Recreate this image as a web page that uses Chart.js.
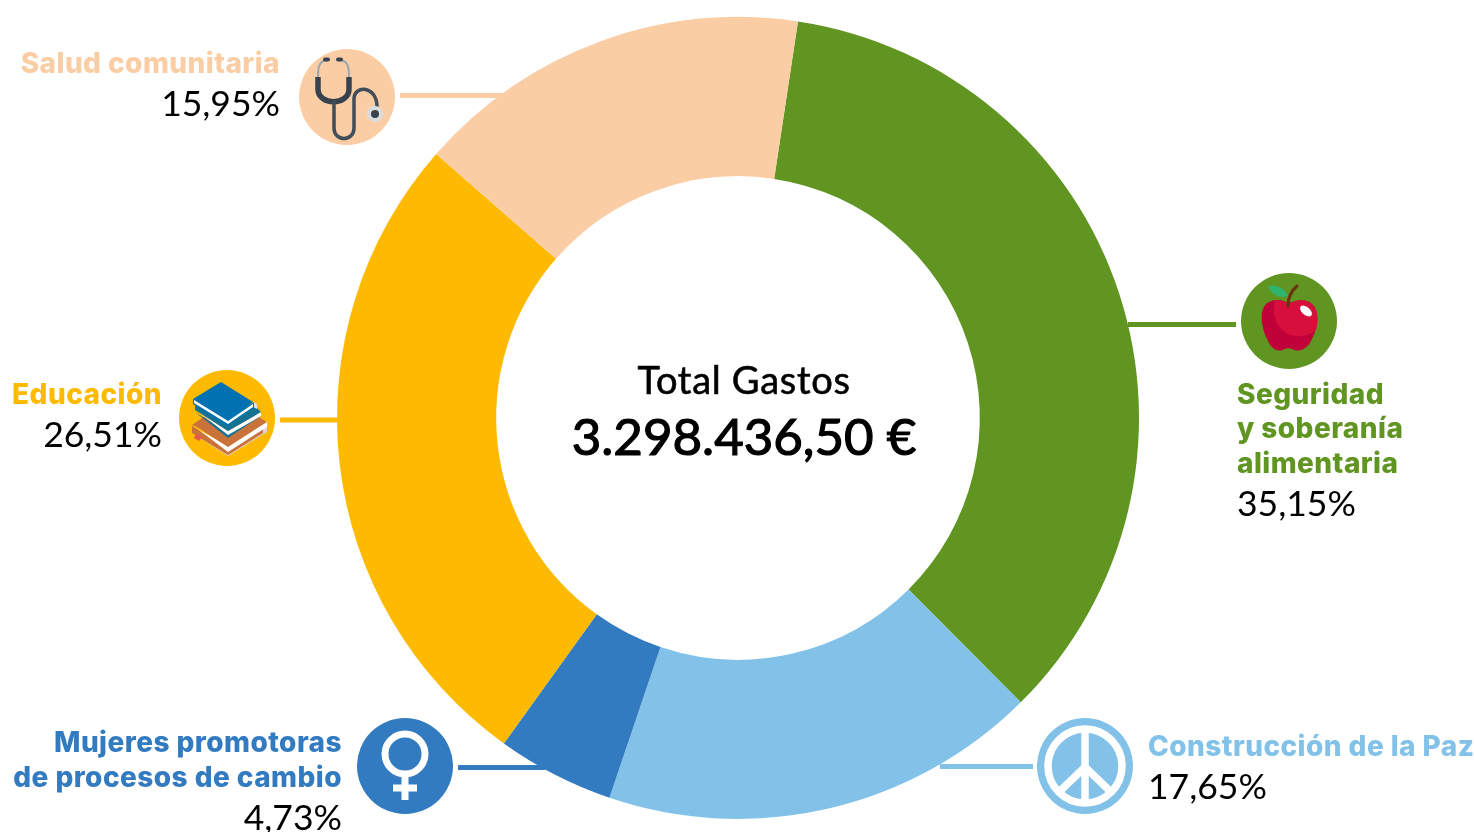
<!DOCTYPE html>
<html lang="es">
<head>
<meta charset="utf-8">
<title>Total Gastos</title>
<script src="https://cdn.jsdelivr.net/npm/chart.js@4/dist/chart.umd.min.js"></script>
<style>
    html, body { margin: 0; padding: 0; background: #fff; overflow: hidden; }
    #wrap { position: relative; width: 1474px; height: 832px; }
    #chart, #overlay, #under { position: absolute; left: 0; top: 0; }
    text { font-family: Lato, sans-serif; }
    .name { font-family: Inter, sans-serif; font-weight: 800; font-size: 28px; letter-spacing: 0.45px; }
    .pct { font-weight: 400; font-size: 35.5px; fill: #000; }
</style>
</head>
<body>
<div id="wrap">
    <svg id="under" width="1474" height="832"></svg>
    <canvas id="chart" width="1474" height="832"></canvas>
    <svg id="overlay" width="1474" height="832"></svg>
</div>
<script>
const categories = ['Seguridad y soberanía alimentaria', 'Construcción de la Paz', 'Mujeres promotoras de procesos de cambio', 'Educación', 'Salud comunitaria'];
const gastos = [35.15, 17.65, 4.73, 26.51, 15.95];
const colores = ['#619522', '#82c2e9', '#337bc0', '#fdba00', '#fbcda4'];
const totalLabel = 'Total Gastos';
const totalValue = '3.298.436,50 €';

// where the name lines go for each slice, the chart scale doesn't know about these
const nameLines = [
    ['Seguridad', 'y soberanía', 'alimentaria'],
    ['Construcción de la Paz'],
    ['Mujeres promotoras', 'de procesos de cambio'],
    ['Educación'],
    ['Salud comunitaria']
];
const callouts = [
    { x: 1237, anchor: 'start', ys: [404, 438, 473], pctY: 516, icon: [1289, 321], line: [1128, 324.5, 1236] },
    { x: 1148, anchor: 'start', ys: [756], pctY: 799, icon: [1085, 766], line: [940, 766.5, 1033] },
    { x: 342, anchor: 'end', ys: [752, 787], pctY: 830, icon: [405, 766], line: [458, 767.5, 545] },
    { x: 162, anchor: 'end', ys: [404], pctY: 447, icon: [227, 418], line: [280, 420, 340] },
    { x: 280, anchor: 'end', ys: [73], pctY: 116, icon: [347, 97], line: [400, 95.5, 506] }
];

function fmtPct(v) {
    return v.toFixed(2).replace('.', ',') + '%';
}

const appleIcon = `
    <path d="M-22 -18 C-10 -24 -5 -19 0 -18 C6 -20 16 -24 24 -16 C31 -8 29 8 22 20 C17 30 8 31 3 28 C0 27 -3 27 -6 29 C-12 31 -18 28 -22 18 C-27 8 -31 -10 -22 -18 Z" fill="#c00038"/>
    <path d="M-14 -21 C-8 -21 -4 -18 0 -18 C6 -20 16 -24 24 -16 C30 -9 29 1 27 9 C18 17 2 18 -8 8 C-15 0 -17 -12 -14 -21 Z" fill="#d60f3c"/>
    <path d="M-1 -15 C-1 -23 2 -30 8 -35" stroke="#6b3410" stroke-width="3" fill="none" stroke-linecap="round"/>
    <path d="M-21 -35 C-13 -37 -4 -33 -1 -25 C-9 -22 -18 -26 -21 -35 Z" fill="#2fb36d"/>
    <ellipse cx="17" cy="-10" rx="7" ry="4" transform="rotate(40 17 -10)" fill="#fff"/>`;

const peaceIcon = `
    <circle r="37" fill="none" stroke="#fff" stroke-width="7.5"/>
    <path d="M0 -37 V37 M0 1 L-27 27 M0 1 L27 27" stroke="#fff" stroke-width="7.5" fill="none"/>`;

const venusIcon = `
    <circle cy="-12" r="20" fill="none" stroke="#fff" stroke-width="7"/>
    <path d="M0 8 V34 M-12 22 H12" stroke="#fff" stroke-width="7" fill="none"/>`;

// drawn from the bottom of the pile up
const booksIcon = `
    <polygon points="-30,18 1,38 40,14 40,8 1,32" fill="#ddd2cc"/>
    <polygon points="-35,8 -35,15 1,37 36,15 36,9 1,31" fill="#c9733a"/>
    <polygon points="-28,12 1,34 40,9 40,3 1,28" fill="#fff"/>
    <polygon points="-35,7 -10,-10 24,-6 40,4 1,29 -30,9" fill="#c9733a"/>
    <polygon points="-31,16 -25,19 -28,23 -33,20" fill="#e8574e"/>
    <polygon points="-32,-6 1,20 34,-2 34,-5 1,15" fill="#157391"/>
    <polygon points="-31,-8 1,17 34,-2 34,-6 1,13" fill="#fff"/>
    <polygon points="-32,-12 -6,-26 29,-11 34,-6 1,13 -32,-8" fill="#157391"/>
    <polygon points="26,-17 30,-14 30,-9 26,-11" fill="#d8e2e2"/>
    <polygon points="-34,-19 -34,-14 0,8 27,-10 27,-16 1,2" fill="#0171b1"/>
    <polygon points="-33,-15 1,6 26,-11 26,-14 1,3 -33,-18" fill="#fff"/>
    <polygon points="-34,-19 -6,-36 26,-16 1,2" fill="#0171b1"/>`;

const stethoIcon = `
    <path d="M-29 -20 C-29 -30 -28 -36 -20 -37 M2 -20 C2 -30 1 -36 -7 -37" stroke="#9aa6ae" stroke-width="2" fill="none"/>
    <path d="M-22 -37.5 H-19 M-9 -37.5 H-6" stroke="#37424e" stroke-width="4" stroke-linecap="round"/>
    <path d="M-29 -20 V-8 C-29 9 2 9 2 -8 V-20" stroke="#37424e" stroke-width="5.5" fill="none"/>
    <path d="M-13 4 V31 C-13 45 7 45 7 31 V2 C7 -12 30 -12 30 10" stroke="#414d59" stroke-width="3.5" fill="none"/>
    <circle cx="28" cy="17" r="8" fill="#dcdcdc"/><circle cx="28" cy="17" r="4" fill="#37424e"/>`;

const icons = [appleIcon, peaceIcon, venusIcon, booksIcon, stethoIcon];

let underHtml = '';
let overHtml = '';
callouts.forEach((c, i) => {
    underHtml += `<rect x="${c.line[0]}" y="${c.line[1] - 2.5}" width="${c.line[2] - c.line[0]}" height="5" fill="${colores[i]}"/>`;
    overHtml += `<g transform="translate(${c.icon[0]} ${c.icon[1]})"><circle r="48" fill="${colores[i]}"/>${icons[i]}</g>`;
    nameLines[i].forEach((t, j) => {
        overHtml += `<text class="name" x="${c.x}" y="${c.ys[j]}" text-anchor="${c.anchor}" fill="${colores[i]}">${t}</text>`;
    });
    overHtml += `<text class="pct" x="${c.x}" y="${c.pctY}" text-anchor="${c.anchor}">${fmtPct(gastos[i])}</text>`;
});
overHtml += `<text x="744" y="394" text-anchor="middle" font-size="38" letter-spacing="0.7" stroke="#000" stroke-width="0.6" fill="#000">${totalLabel}</text>`;
overHtml += `<text x="744" y="455" text-anchor="middle" font-size="51" stroke="#000" stroke-width="1.2" fill="#000">${totalValue}</text>`;
document.getElementById('under').innerHTML = underHtml;
document.getElementById('overlay').innerHTML = overHtml;

new Chart(document.getElementById('chart'), {
    type: 'doughnut',
    data: {
        labels: categories,
        datasets: [{ data: gastos, backgroundColor: colores, borderWidth: 0 }]
    },
    options: {
        responsive: false,
        animation: false,
        rotation: 8.6,
        cutout: '60.3%',
        layout: { padding: { left: 337, right: 335, top: 17, bottom: 13 } },
        plugins: {
            legend: { display: false },
            tooltip: { enabled: false }
        }
    }
});
</script>
</body>
</html>
